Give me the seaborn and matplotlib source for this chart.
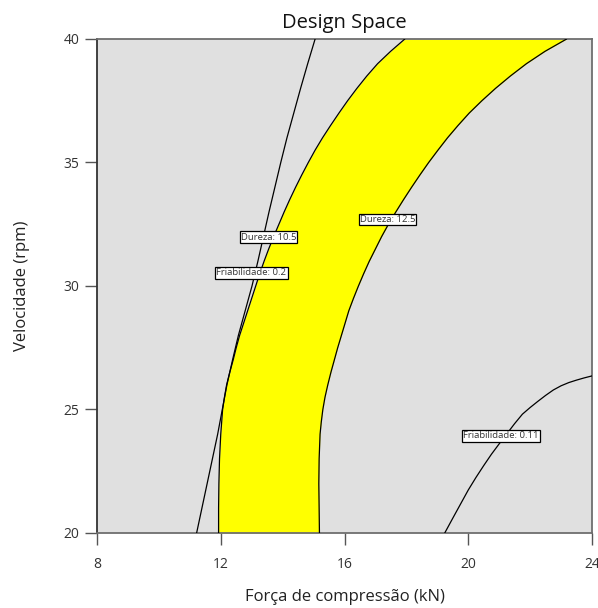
import matplotlib
matplotlib.use("Agg")
import matplotlib.pyplot as plt
import seaborn as sns
import pandas as pd

# Contour readings: Force (kN) against Speed (rpm)
dureza_105_y = [20, 21, 22, 23, 24, 24.5, 25, 25.5, 26, 26.5, 27, 27.5, 28, 28.5, 29, 29.5, 30,
                30.5, 31, 31.5, 32, 32.5, 33, 33.5, 34, 34.5, 35, 35.5, 36, 36.5, 37, 37.5, 38,
                38.5, 39, 39.5, 40]
dureza_105_x = [11.93, 11.93, 11.94, 11.96, 12.00, 12.03, 12.06, 12.12, 12.19, 12.29, 12.40, 12.50,
                12.61, 12.74, 12.87, 13.00, 13.13, 13.26, 13.40, 13.55, 13.71, 13.88, 14.05, 14.23,
                14.42, 14.62, 14.83, 15.05, 15.29, 15.55, 15.82, 16.10, 16.40, 16.72, 17.07, 17.49,
                17.95]

dureza_125_y = dureza_105_y
dureza_125_x = [15.19, 15.18, 15.17, 15.18, 15.21, 15.25, 15.30, 15.37, 15.46, 15.56, 15.67, 15.78,
                15.90, 16.02, 16.14, 16.29, 16.45, 16.62, 16.80, 17.00, 17.20, 17.42, 17.66, 17.91,
                18.17, 18.44, 18.72, 19.02, 19.33, 19.67, 20.03, 20.44, 20.88, 21.36, 21.88, 22.48,
                23.18]

friab_02_y = [20, 21, 22, 23, 24, 25, 26, 27, 28, 29, 30, 31, 32, 33, 34, 35, 36, 37, 38, 39, 40]
friab_02_x = [11.22, 11.39, 11.56, 11.73, 11.90, 12.05, 12.20, 12.38, 12.57, 12.79, 13.01, 13.20,
              13.38, 13.56, 13.75, 13.94, 14.14, 14.36, 14.58, 14.81, 15.05]

friab_011_x = [19.24, 19.5, 19.75, 20.0, 20.25, 20.5, 20.75, 21.0, 21.25, 21.5, 21.75, 22.0, 22.25,
               22.5, 22.75, 23.0, 23.25, 23.5, 23.75, 24.0]
friab_011_y = [20.00, 20.60, 21.17, 21.74, 22.25, 22.73, 23.19, 23.61, 24.02, 24.43, 24.81, 25.08,
               25.33, 25.57, 25.79, 25.96, 26.09, 26.19, 26.28, 26.36]

# Contour label text and anchor (force, speed)
label_text = ["Dureza: 10.5", "Friabilidade: 0.2", "Dureza: 12.5", "Friabilidade: 0.11"]
label_x = [13.54, 12.99, 17.39, 21.06]
label_y = [31.98, 30.53, 32.69, 23.93]

x_ticks = [8, 12, 16, 20, 24]
y_ticks = [20, 25, 30, 35, 40]

sns.set_theme(style="white")
plt.rcParams["font.family"] = ["Open Sans", "DejaVu Sans"]

fig = plt.figure(figsize=(5.98, 6.08), dpi=100)
ax = fig.add_axes([97 / 598, 1 - 533 / 608, 495 / 598, 494 / 608])
ax.set_facecolor("#E0E0E0")

# Design space band between the two hardness limits
ax.fill_betweenx(dureza_105_y, dureza_105_x, dureza_125_x, color="#FFFF00", lw=0, zorder=1)

curves = [
    (dureza_105_x, dureza_105_y),
    (dureza_125_x, dureza_125_y),
    (friab_02_x, friab_02_y),
    (friab_011_x, friab_011_y),
]
for cx, cy in curves:
    df = pd.DataFrame({"forca": cx, "velocidade": cy})
    sns.lineplot(data=df, x="forca", y="velocidade", sort=False, estimator=None,
                 color="black", lw=0.9, ax=ax, zorder=3)

for t, lx, ly in zip(label_text, label_x, label_y):
    ax.text(lx, ly, t, fontsize=6.8, color="#333333", ha="center", va="center", zorder=5,
            bbox=dict(boxstyle="square,pad=0.12", fc="white", ec="black", lw=0.9))

ax.set_xlim(8, 24)
ax.set_ylim(20, 40)
ax.set_xticks(x_ticks)
ax.set_yticks(y_ticks)
ax.tick_params(axis="both", which="major", direction="out", length=8.5, width=1,
               color="#555555", labelsize=10, labelcolor="#333333",
               bottom=True, left=True)
ax.tick_params(axis="x", pad=9)
ax.tick_params(axis="y", pad=4)

for side in ["top", "right", "bottom"]:
    ax.spines[side].set_color("#6E6E6E")
    ax.spines[side].set_linewidth(1.3)
ax.spines["left"].set_color("#333333")
ax.spines["left"].set_linewidth(1.3)

ax.set_xlabel("Força de compressão (kN)", fontsize=12, color="#222222", va="center")
ax.xaxis.set_label_coords(0.5, -(597 - 533) / 494)
ax.set_ylabel("Velocidade (rpm)", fontsize=12, color="#222222", va="center")
ax.yaxis.set_label_coords(-(97 - 22) / 495, 0.5)
ax.set_title("Design Space", fontsize=14.5, color="#111111", pad=8)

fig.savefig("out.png", dpi=100)
